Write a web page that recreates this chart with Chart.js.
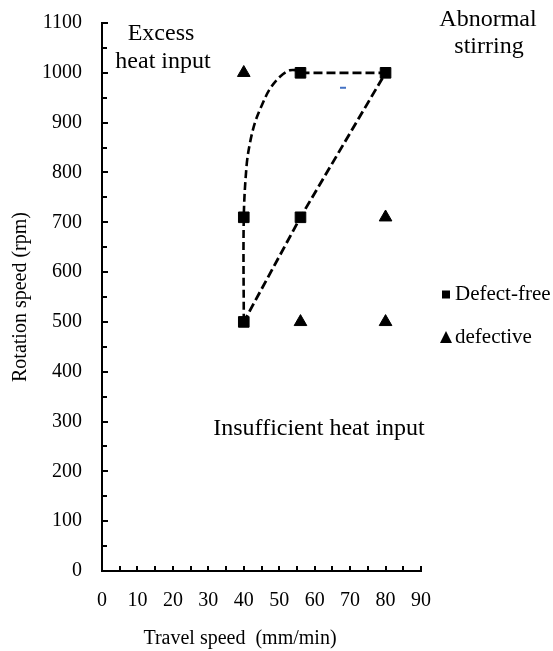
<!DOCTYPE html>
<html>
<head>
<meta charset="utf-8">
<script src="https://cdn.jsdelivr.net/npm/chart.js@4/dist/chart.umd.min.js"></script>
<style>
html,body{margin:0;padding:0;background:#fff;}
canvas{display:block;}
</style>
</head>
<body>
<canvas id="c" width="553" height="651"></canvas>
<script>
// ---- data ----
const xTicks = [0, 10, 20, 30, 40, 50, 60, 70, 80, 90];
const yTicks = [0, 100, 200, 300, 400, 500, 600, 700, 800, 900, 1000, 1100];
const defectFreeX = [40, 40, 56, 56, 80];
const defectFreeY = [500, 710, 710, 1000, 1000];
const defectiveX = [40, 56, 80, 80];
const defectiveY = [1000, 500, 500, 710];
const curveX = [40, 40, 40.8, 41.8, 43.2, 45.1, 47.4, 50.2, 53.0, 55.5];
const curveY = [500, 710, 814, 861, 901, 935, 968, 992, 1005, 1005];
const boundaryX = [56, 80, 56, 40];
const boundaryY = [1000, 1000, 710, 500];
const strayX = [68];
const strayY = [970];
const seriesNames = ['Defect-free', 'defective'];
const xTitle = 'Travel speed  (mm/min)';
const yTitle = 'Rotation speed (rpm)';
const regionLabels = [
  { lines: ['Excess', 'heat input'] },
  { lines: ['Abnormal', 'stirring'] },
  { lines: ['Insufficient heat input'] }
];

const FONT = "'Liberation Serif', 'Times New Roman', serif";
const pts = (xs, ys) => xs.map((x, i) => ({ x: x, y: ys[i] }));

const overlay = {
  id: 'overlay',
  afterDraw(chart) {
    const ctx = chart.ctx;
    const xs = chart.scales.x, ys = chart.scales.y;
    const area = chart.chartArea;
    ctx.save();
    // inner tick marks
    ctx.strokeStyle = '#000';
    ctx.lineWidth = 2;
    for (let v = 0; v <= 1100; v += 50) {
      const py = Math.round(ys.getPixelForValue(v));
      const len = (v % 100 === 0) ? 6 : 5;
      ctx.beginPath(); ctx.moveTo(area.left, py); ctx.lineTo(area.left + len, py); ctx.stroke();
    }
    for (let v = 0; v <= 90; v += 5) {
      const px = Math.round(xs.getPixelForValue(v));
      ctx.beginPath(); ctx.moveTo(px, area.bottom); ctx.lineTo(px, area.bottom - 5); ctx.stroke();
    }
    ctx.fillStyle = '#000';
    // region labels
    ctx.textAlign = 'center';
    ctx.textBaseline = 'alphabetic';
    ctx.font = '24px ' + FONT;
    ctx.fillText(regionLabels[0].lines[0], 161, 40);
    ctx.fillText(regionLabels[0].lines[1], 163, 68);
    ctx.fillText(regionLabels[1].lines[0], 488, 26);
    ctx.fillText(regionLabels[1].lines[1], 489, 53);
    ctx.fillText(regionLabels[2].lines[0], 319, 435);
    // x axis title
    ctx.font = '20px ' + FONT;
    ctx.fillText(xTitle, 240, 644);
    // legend
    ctx.textAlign = 'left';
    ctx.font = '21px ' + FONT;
    ctx.fillRect(442, 290.5, 8, 8);
    ctx.fillText(chart.data.datasets[0].label, 455, 300);
    ctx.beginPath();
    ctx.moveTo(446, 331); ctx.lineTo(452, 343); ctx.lineTo(440, 343); ctx.closePath(); ctx.fill();
    ctx.fillText(chart.data.datasets[1].label, 455, 343);
    ctx.restore();
  }
};

new Chart(document.getElementById('c'), {
  type: 'scatter',
  data: {
    datasets: [
      { label: seriesNames[0], data: pts(defectFreeX, defectFreeY), pointStyle: 'rect', pointRadius: 7.5, backgroundColor: '#000', borderColor: '#000', borderWidth: 1, showLine: false },
      { label: seriesNames[1], data: pts(defectiveX, defectiveY), pointStyle: 'triangle', pointRadius: 7.3, backgroundColor: '#000', borderColor: '#000', borderWidth: 1, showLine: false },
      { label: '', data: pts(strayX, strayY), pointStyle: 'line', pointRadius: 3, borderColor: '#4472C4', backgroundColor: '#4472C4', borderWidth: 2, showLine: false },
      { label: '', data: pts(curveX, curveY), showLine: true, tension: 0.35, borderColor: '#000', borderWidth: 2.6, borderDash: [8, 4], pointRadius: 0, fill: false },
      { label: '', data: pts(boundaryX, boundaryY), showLine: true, tension: 0, borderColor: '#000', borderWidth: 2.8, borderDash: [9, 4], pointRadius: 0, fill: false }
    ]
  },
  options: {
    responsive: false,
    animation: false,
    events: [],
    layout: { padding: { top: 23, right: 132, bottom: 0, left: 0 } },
    plugins: { legend: { display: false }, tooltip: { enabled: false } },
    scales: {
      x: {
        type: 'linear', min: 0, max: 90,
        afterBuildTicks(s) { s.ticks = xTicks.map(v => ({ value: v })); },
        ticks: { font: { family: FONT, size: 20 }, color: '#000', padding: 18, maxRotation: 0, callback: v => String(v) },
        grid: { display: false, drawTicks: false },
        border: { display: true, color: '#000', width: 2 },
        afterFit(s) { s.height = 80; s.paddingLeft = 0; s.paddingRight = 0; }
      },
      y: {
        type: 'linear', min: 0, max: 1100,
        afterBuildTicks(s) { s.ticks = yTicks.map(v => ({ value: v })); },
        ticks: { font: { family: FONT, size: 20 }, color: '#000', padding: 20, callback: v => String(v) },
        grid: { display: false, drawTicks: false },
        border: { display: true, color: '#000', width: 2 },
        title: { display: true, text: yTitle, font: { family: FONT, size: 20 }, color: '#000', padding: { top: 9, bottom: 0 } },
        afterFit(s) { s.width = 102; s.paddingTop = 0; s.paddingBottom = 0; }
      }
    }
  },
  plugins: [overlay]
});
</script>
</body>
</html>
